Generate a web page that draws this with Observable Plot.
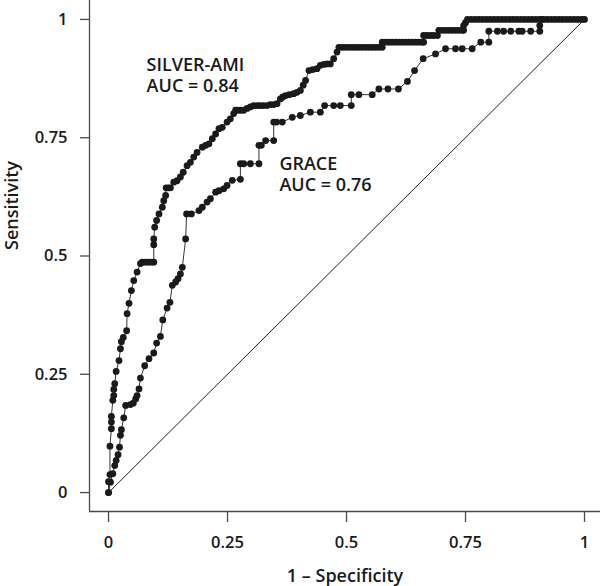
<!DOCTYPE html>
<html><head><meta charset="utf-8">
<script src="https://cdn.jsdelivr.net/npm/d3@7"></script>
<script src="https://cdn.jsdelivr.net/npm/@observablehq/plot@0.6"></script>
<style>body{margin:0;background:#fff} svg{display:block} svg text{font-weight:600}</style>
</head><body><div id="chart"></div>
<script>
// SILVER-AMI ROC points (1 - specificity, sensitivity)
const silverFpr = [0,0,0.003,0.003,0.006,0.006,0.006,0.009,0.011,0.011,0.013,0.016,0.022,0.025,0.027,0.031,0.038,0.039,0.043,0.048,0.053,0.060,0.067,0.071,0.078,0.084,0.090,0.095,0.095,0.095,0.097,0.101,0.106,0.113,0.116,0.120,0.121,0.126,0.130,0.137,0.144,0.151,0.157,0.165,0.172,0.179,0.186,0.197,0.204,0.211,0.218,0.225,0.232,0.239,0.249,0.256,0.263,0.267,0.272,0.278,0.284,0.291,0.298,0.305,0.312,0.318,0.325,0.333,0.340,0.347,0.354,0.361,0.366,0.372,0.380,0.389,0.396,0.403,0.409,0.414,0.421,0.429,0.438,0.445,0.452,0.459,0.466,0.473,0.480,0.484,0.491,0.498,0.505,0.512,0.519,0.526,0.533,0.540,0.547,0.554,0.561,0.568,0.575,0.575,0.582,0.589,0.596,0.603,0.610,0.617,0.624,0.631,0.638,0.645,0.652,0.659,0.662,0.662,0.669,0.676,0.683,0.691,0.694,0.701,0.708,0.715,0.722,0.729,0.736,0.743,0.746,0.746,0.750,0.754,0.762,0.770,0.778,0.786,0.794,0.802,0.810,0.818,0.826,0.834,0.842,0.850,0.858,0.866,0.874,0.882,0.890,0.898,0.906,0.914,0.922,0.930,0.938,0.946,0.954,0.962,0.970,0.978,0.986,0.994,1.0];
const silverTpr = [0,0.023,0.038,0.098,0.135,0.149,0.161,0.195,0.205,0.218,0.230,0.256,0.279,0.304,0.319,0.328,0.342,0.378,0.400,0.427,0.448,0.466,0.484,0.487,0.487,0.487,0.487,0.487,0.524,0.536,0.561,0.575,0.589,0.603,0.617,0.628,0.644,0.644,0.644,0.656,0.659,0.667,0.677,0.691,0.698,0.709,0.719,0.730,0.734,0.737,0.748,0.758,0.769,0.772,0.783,0.790,0.801,0.808,0.808,0.808,0.808,0.812,0.815,0.818,0.818,0.818,0.818,0.818,0.820,0.820,0.822,0.832,0.836,0.839,0.841,0.843,0.846,0.850,0.861,0.871,0.892,0.894,0.896,0.903,0.905,0.906,0.906,0.917,0.931,0.941,0.941,0.941,0.941,0.941,0.941,0.941,0.941,0.941,0.941,0.941,0.941,0.941,0.941,0.952,0.952,0.952,0.952,0.952,0.952,0.952,0.952,0.952,0.952,0.952,0.952,0.952,0.952,0.966,0.966,0.966,0.966,0.966,0.977,0.977,0.977,0.977,0.977,0.977,0.977,0.977,0.977,0.987,0.993,1,1,1,1,1,1,1,1,1,1,1,1,1,1,1,1,1,1,1,1,1,1,1,1,1,1,1,1,1,1,1,1];

// GRACE ROC points
const graceFpr = [0,0.004,0.009,0.013,0.016,0.020,0.023,0.025,0.027,0.032,0.036,0.046,0.052,0.057,0.060,0.064,0.067,0.076,0.085,0.095,0.101,0.109,0.114,0.123,0.129,0.134,0.141,0.146,0.151,0.155,0.162,0.164,0.174,0.190,0.197,0.207,0.214,0.225,0.232,0.242,0.249,0.260,0.277,0.277,0.284,0.298,0.316,0.316,0.321,0.330,0.347,0.347,0.353,0.365,0.386,0.403,0.424,0.445,0.454,0.473,0.487,0.510,0.510,0.526,0.554,0.568,0.587,0.609,0.628,0.643,0.661,0.687,0.708,0.729,0.743,0.764,0.782,0.799,0.799,0.817,0.830,0.845,0.862,0.869,0.887,0.906,0.906,0.910,1.0];
const graceTpr = [0,0.022,0.040,0.057,0.068,0.080,0.096,0.121,0.133,0.158,0.184,0.186,0.189,0.198,0.205,0.219,0.242,0.268,0.283,0.295,0.316,0.330,0.365,0.390,0.402,0.438,0.445,0.452,0.462,0.476,0.536,0.589,0.589,0.596,0.603,0.614,0.621,0.635,0.638,0.642,0.649,0.660,0.662,0.695,0.695,0.695,0.695,0.734,0.734,0.744,0.744,0.783,0.783,0.783,0.793,0.797,0.804,0.804,0.818,0.818,0.818,0.818,0.841,0.841,0.841,0.853,0.853,0.853,0.869,0.892,0.917,0.927,0.938,0.938,0.938,0.938,0.952,0.952,0.975,0.975,0.975,0.975,0.975,0.975,0.975,0.975,0.987,1,1];

const chance = [0, 1];
const tickValues = [0, 0.25, 0.5, 0.75, 1];
const tickLabels = ["0", "0.25", "0.5", "0.75", "1"];
const annText = ["SILVER-AMI\nAUC = 0.84", "GRACE\nAUC = 0.76"];
const annX = [0.080, 0.359];
const annY = [0.846, 0.637];
const xTitle = "1 – Specificity";
const yTitle = "Sensitivity";

const silver = silverFpr.map((x, i) => ({x, y: silverTpr[i]}));
const grace = graceFpr.map((x, i) => ({x, y: graceTpr[i]}));
const diag = chance.map(v => ({x: v, y: v}));
const ann = annText.map((t, i) => ({t, x: annX[i], y: annY[i]}));

const font = "'Open Sans', sans-serif";
const ink = "#1a1a1a";
const axisInk = "#4a4a4a";

const plot = Plot.plot({
  width: 600, height: 586,
  marginLeft: 89, marginRight: 0, marginTop: 0, marginBottom: 75,
  style: {fontFamily: font, fontSize: "16.5px", color: ink, background: "#fff"},
  x: {domain: [-0.04, 1.0336]},
  y: {domain: [-0.04, 1.04]},
  marks: [
    Plot.ruleX([-0.04], {stroke: axisInk, strokeWidth: 1.3}),
    Plot.ruleY([-0.04], {stroke: axisInk, strokeWidth: 1.3}),
    Plot.axisX({ticks: tickValues, tickFormat: (d) => tickLabels[tickValues.indexOf(d)], tickSize: 11, tickPadding: 14, label: null, stroke: axisInk, strokeWidth: 1.3, fill: ink, fontSize: 16.5}),
    Plot.axisY({ticks: tickValues, tickFormat: (d) => tickLabels[tickValues.indexOf(d)], tickSize: 9, tickPadding: 13, label: null, stroke: axisInk, strokeWidth: 1.3, fill: ink, fontSize: 16.5}),
    Plot.line(diag, {x: "x", y: "y", stroke: "#222", strokeWidth: 1}),
    Plot.line(grace, {x: "x", y: "y", stroke: "#333", strokeWidth: 1}),
    Plot.line(silver, {x: "x", y: "y", stroke: "#333", strokeWidth: 1}),
    Plot.dot(grace.slice(0, -1), {x: "x", y: "y", r: 3.4, fill: ink, stroke: "none"}),
    Plot.dot(silver, {x: "x", y: "y", r: 3.4, fill: ink, stroke: "none"}),
    Plot.text(ann, {x: "x", y: "y", text: "t", textAnchor: "start", lineAnchor: "bottom", lineHeight: 1.18, fontSize: 18, fill: ink}),
    Plot.text([xTitle], {frameAnchor: "bottom", dy: 70, lineAnchor: "bottom", fontSize: 18, fill: ink}),
    Plot.text([yTitle], {frameAnchor: "left", dx: -72, dy: -6, rotate: -90, lineAnchor: "bottom", fontSize: 18, fill: ink})
  ]
});
document.getElementById("chart").appendChild(plot);
</script>
</body></html>
